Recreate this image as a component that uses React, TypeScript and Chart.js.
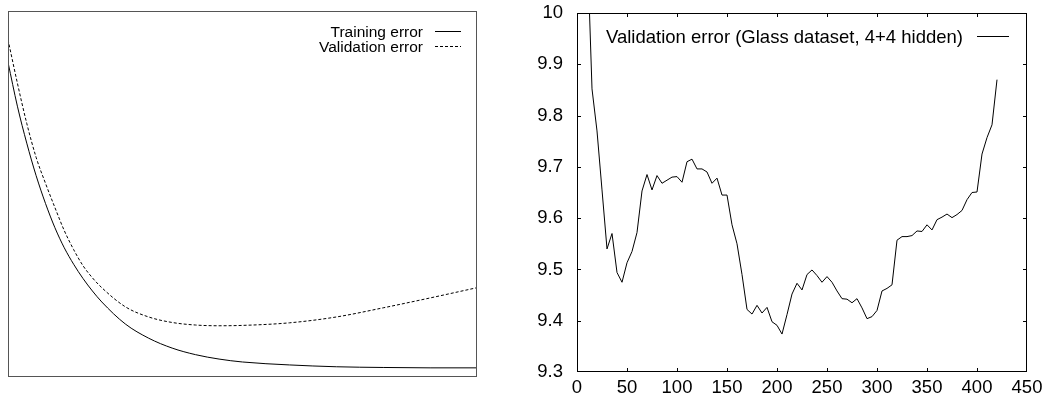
import React, { useEffect, useRef } from "react";
import { Chart, registerables } from "chart.js";

Chart.register(...registerables);

// ---------- Left panel (schematic, no numeric axes) ----------
const leftEpochs = [0, 2, 4, 6, 8, 10, 12, 14, 16, 18, 20, 25, 30, 35, 40, 45, 50, 60, 70, 80, 90, 100];
const trainingError = [86.0, 74.0, 63.9, 55.0, 47.4, 40.8, 35.3, 30.8, 26.9, 23.5, 20.5, 14.5, 10.6, 7.9, 6.1, 4.9, 4.1, 3.3, 2.8, 2.6, 2.5, 2.5];
const validationErrorLeft = [92.2, 80.3, 69.3, 60.0, 52.9, 46.3, 40.0, 34.8, 30.4, 27.1, 24.4, 19.2, 16.4, 14.9, 14.2, 14.0, 14.1, 14.8, 16.4, 18.9, 21.6, 24.4];
const leftLabels = ["Training error", "Validation error"];

// ---------- Right panel (Glass dataset) ----------
const glassEpochs = [
  10, 15, 20, 25, 30, 35, 40, 45, 50, 55, 60, 65, 70, 75, 80, 85, 90, 95, 100,
  105, 110, 115, 120, 125, 130, 135, 140, 145, 150, 155, 160, 165, 170, 175, 180,
  185, 190, 195, 200, 205, 210, 215, 220, 225, 230, 235, 240, 245, 250, 255, 260,
  265, 270, 275, 280, 285, 290, 295, 300, 305, 310, 315, 320, 325, 330, 335, 340,
  345, 350, 355, 360, 365, 370, 375, 380, 385, 390, 395, 400, 405, 410, 415, 420,
];
const glassValidation = [
  10.15, 9.852, 9.77, 9.655, 9.54, 9.57, 9.494, 9.475, 9.513, 9.535, 9.572, 9.653, 9.685, 9.655, 9.683, 9.668, 9.674, 9.68, 9.681,
  9.67, 9.71, 9.715, 9.696, 9.696, 9.69, 9.668, 9.678, 9.645, 9.645, 9.587, 9.55, 9.49, 9.422, 9.413, 9.43,
  9.415, 9.426, 9.398, 9.391, 9.374, 9.412, 9.452, 9.473, 9.46, 9.49, 9.499, 9.488, 9.475, 9.486, 9.475, 9.458,
  9.443, 9.442, 9.435, 9.443, 9.425, 9.404, 9.408, 9.42, 9.458, 9.463, 9.47, 9.557, 9.564, 9.564, 9.566, 9.575,
  9.574, 9.587, 9.577, 9.597, 9.602, 9.608, 9.601, 9.607, 9.615, 9.636, 9.65, 9.651, 9.725, 9.757, 9.782, 9.87,
];
const glassLabel = "Validation error (Glass dataset, 4+4 hidden)";
const xTickMin = 0;
const xTickMax = 450;
const xTickStep = 50;
const yTickMin = 9.3;
const yTickMax = 10;
const yTickStep = 0.1;

const FONT_FAMILY = "'Liberation Sans', Arial, Helvetica, sans-serif";

// Frame (box) + optional inward tick marks on all four sides
const framePlugin = {
  id: "frame",
  afterDraw(chart: any, _args: any, opts: any) {
    const { ctx, chartArea: a } = chart;
    ctx.save();
    ctx.setLineDash([]);
    ctx.strokeStyle = opts.color;
    ctx.lineWidth = 1;
    ctx.strokeRect(a.left + 0.5, a.top + 0.5, a.right - a.left - 1, a.bottom - a.top - 1);
    const L = opts.tickLen || 0;
    if (L > 0) {
      const xs = chart.scales.x;
      const ys = chart.scales.y;
      ctx.beginPath();
      xs.ticks.forEach((t: any) => {
        let px = Math.round(xs.getPixelForValue(t.value)) + 0.5;
        px = Math.min(Math.max(px, a.left + 0.5), a.right - 0.5);
        ctx.moveTo(px, a.bottom);
        ctx.lineTo(px, a.bottom - L);
        ctx.moveTo(px, a.top);
        ctx.lineTo(px, a.top + L);
      });
      ys.ticks.forEach((t: any) => {
        let py = Math.round(ys.getPixelForValue(t.value)) + 0.5;
        py = Math.min(Math.max(py, a.top + 0.5), a.bottom - 0.5);
        ctx.moveTo(a.left, py);
        ctx.lineTo(a.left + L, py);
        ctx.moveTo(a.right, py);
        ctx.lineTo(a.right - L, py);
      });
      ctx.stroke();
    }
    ctx.restore();
  },
};

// gnuplot-style key: right-aligned text, line sample to its right
const keyPlugin = {
  id: "gkey",
  afterDatasetsDraw(chart: any, _args: any, opts: any) {
    const { ctx, chartArea: a } = chart;
    ctx.save();
    ctx.font = opts.fontSpec;
    ctx.fillStyle = "#000";
    ctx.textAlign = "right";
    ctx.textBaseline = "alphabetic";
    chart.data.datasets.forEach((ds: any, i: number) => {
      const base = a.top + opts.firstBaseline + i * opts.lineStep;
      ctx.fillText(ds.label, a.right - opts.textRight, base);
      const ly = Math.round(base - opts.sampleRise) + 0.5;
      ctx.beginPath();
      ctx.setLineDash(ds.borderDash || []);
      ctx.lineWidth = 1;
      ctx.strokeStyle = ds.borderColor;
      ctx.moveTo(a.right - opts.sampleStart, ly);
      ctx.lineTo(a.right - opts.sampleEnd, ly);
      ctx.stroke();
    });
    ctx.restore();
  },
};

function LeftChart() {
  const ref = useRef<HTMLCanvasElement | null>(null);
  useEffect(() => {
    if (!ref.current) return;
    const chart = new Chart(ref.current, {
      type: "line",
      data: {
        datasets: [
          {
            label: leftLabels[0],
            data: leftEpochs.map((x, i) => ({ x, y: trainingError[i] })),
            borderColor: "#000",
            borderWidth: 1,
            pointRadius: 0,
            cubicInterpolationMode: "monotone",
            fill: false,
          },
          {
            label: leftLabels[1],
            data: leftEpochs.map((x, i) => ({ x, y: validationErrorLeft[i] })),
            borderColor: "#000",
            borderWidth: 1,
            borderDash: [3, 2],
            pointRadius: 0,
            cubicInterpolationMode: "monotone",
            fill: false,
          },
        ],
      },
      options: {
        animation: false,
        responsive: false,
        layout: { padding: 1 },
        scales: {
          x: { type: "linear", display: false, min: 0, max: 100 },
          y: { type: "linear", display: false, min: 0, max: 100 },
        },
        plugins: {
          legend: { display: false },
          tooltip: { enabled: false },
          frame: { color: "#555", tickLen: 0 },
          gkey: {
            fontSpec: `15.5px ${FONT_FAMILY}`,
            textRight: 54,
            sampleStart: 42,
            sampleEnd: 16,
            firstBaseline: 26.3,
            lineStep: 15,
            sampleRise: 6,
          },
        } as any,
      },
      plugins: [framePlugin, keyPlugin],
    } as any);
    return () => chart.destroy();
  }, []);
  return (
    <canvas
      ref={ref}
      width={471}
      height={368}
      style={{ position: "absolute", left: 7, top: 10, width: 471, height: 368 }}
    />
  );
}

function RightChart() {
  const ref = useRef<HTMLCanvasElement | null>(null);
  useEffect(() => {
    if (!ref.current) return;
    const tickFont = { family: FONT_FAMILY, size: 18.5 };
    const chart = new Chart(ref.current, {
      type: "line",
      data: {
        datasets: [
          {
            label: glassLabel,
            data: glassEpochs.map((x, i) => ({ x, y: glassValidation[i] })),
            borderColor: "#000",
            borderWidth: 1,
            pointRadius: 0,
            tension: 0,
            fill: false,
          },
        ],
      },
      options: {
        animation: false,
        responsive: false,
        layout: { padding: { top: 13, right: 15, left: 0, bottom: 0 } },
        scales: {
          x: {
            type: "linear",
            min: xTickMin,
            max: xTickMax,
            ticks: {
              stepSize: xTickStep,
              padding: 5,
              color: "#000",
              font: tickFont,
              maxRotation: 0,
              autoSkip: false,
            },
            grid: { display: false, drawTicks: false },
            border: { display: false },
            afterFit(s: any) {
              s.height = 26;
              s.paddingLeft = 0;
              s.paddingRight = 0;
            },
          },
          y: {
            type: "linear",
            min: yTickMin,
            max: yTickMax,
            ticks: {
              stepSize: yTickStep,
              padding: 14,
              color: "#000",
              font: tickFont,
              autoSkip: false,
              callback: (v: any) => String(Number(Number(v).toFixed(1))),
            },
            grid: { display: false, drawTicks: false },
            border: { display: false },
            afterFit(s: any) {
              s.width = 57;
              s.paddingTop = 0;
              s.paddingBottom = 0;
            },
          },
        },
        plugins: {
          legend: { display: false },
          tooltip: { enabled: false },
          frame: { color: "#000", tickLen: 4 },
          gkey: {
            fontSpec: `18.5px ${FONT_FAMILY}`,
            textRight: 64,
            sampleStart: 50,
            sampleEnd: 18,
            firstBaseline: 29.7,
            lineStep: 20,
            sampleRise: 6.7,
          },
        } as any,
      },
      plugins: [framePlugin, keyPlugin],
    } as any);
    return () => chart.destroy();
  }, []);
  return (
    <canvas
      ref={ref}
      width={522}
      height={398}
      style={{ position: "absolute", left: 520, top: 0, width: 522, height: 398 }}
    />
  );
}

export default function App() {
  return (
    <div
      style={{
        position: "absolute",
        left: 0,
        top: 0,
        width: 1042,
        height: 398,
        background: "#fff",
        overflow: "hidden",
      }}
    >
      <LeftChart />
      <RightChart />
    </div>
  );
}
